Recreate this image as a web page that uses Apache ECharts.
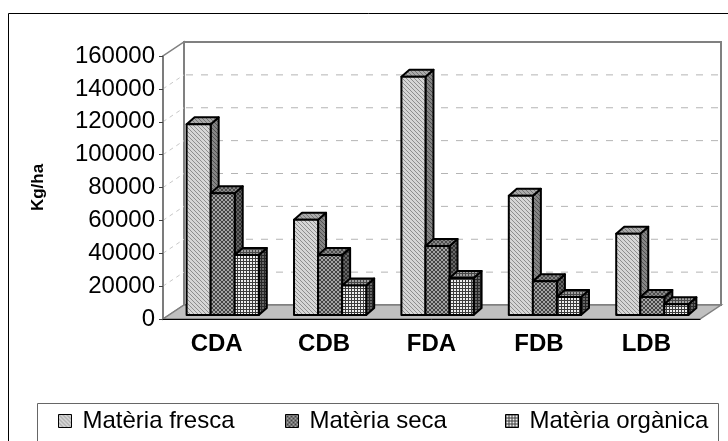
<!DOCTYPE html>
<html>
<head>
<meta charset="utf-8">
<script src="https://cdn.jsdelivr.net/npm/echarts@6/dist/echarts.min.js"></script>
<style>
  html, body { margin: 0; padding: 0; background: #fff; }
  #chart { width: 728px; height: 441px; }
</style>
</head>
<body>
<div id="chart"></div>
<script>
const categories = ['CDA', 'CDB', 'FDA', 'FDB', 'LDB']
const seriesNames = ['Matèria fresca', 'Matèria seca', 'Matèria orgànica']
const fresca = [116000, 58000, 145000, 72500, 49500]
const seca = [74000, 36500, 42000, 20500, 11000]
const organica = [36500, 18000, 22500, 11000, 6500]
const yTicks = [0, 20000, 40000, 60000, 80000, 100000, 120000, 140000, 160000]

// fake 3d offsets (px)
const WALL = [21, -14]
const BAR_POS = [6, -4]
const BAR_DEPTH = [8, -7]
const BAR_FRAC = 0.224

const FONT = 'Liberation Sans, Arial, sans-serif'

function tile(bg, fg, kind, n) {
  const c = document.createElement('canvas')
  c.width = n
  c.height = n
  const g = c.getContext('2d')
  g.fillStyle = bg
  g.fillRect(0, 0, n, n)
  g.fillStyle = fg
  for (let i = 0; i < n; i++) {
    if (kind === 'diag') g.fillRect(i, i, 1, 1)
    if (kind === 'cross') {
      g.fillRect(i, i, 1, 1)
      g.fillRect(n - 1 - i, i, 1, 1)
    }
    if (kind === 'grid') {
      g.fillRect(i, 0, 1, 1)
      g.fillRect(0, i, 1, 1)
    }
  }
  return { image: c, repeat: 'repeat' }
}

const faces = [
  {
    front: tile('#d6d6d6', '#8e8e8e', 'diag', 4),
    side: tile('#858585', '#505050', 'diag', 4),
    top: tile('#ababab', '#767676', 'diag', 4),
  },
  {
    front: tile('#a4a4a4', '#444444', 'cross', 4),
    side: tile('#666666', '#303030', 'cross', 4),
    top: tile('#888888', '#4c4c4c', 'cross', 4),
  },
  {
    front: tile('#eeeeee', '#3c3c3c', 'grid', 3),
    side: tile('#666666', '#262626', 'grid', 3),
    top: tile('#a0a0a0', '#484848', 'grid', 3),
  },
]

function wallRender(params, api) {
  const cs = params.coordSys
  const xL = cs.x
  const xR = cs.x + cs.width
  const y0 = api.coord([0, yTicks[0]])[1]
  const yTop = api.coord([0, yTicks[yTicks.length - 1]])[1]
  const [dx, dy] = WALL
  const children = [
    {
      type: 'polygon',
      shape: { points: [[xL, y0], [xL, yTop], [xL + dx, yTop + dy], [xL + dx, y0 + dy]] },
      style: { fill: '#fff', stroke: '#808080', lineWidth: 1.5 },
    },
    {
      type: 'rect',
      shape: { x: xL + dx, y: yTop + dy, width: xR - xL, height: y0 - yTop },
      style: { fill: '#fff', stroke: '#808080', lineWidth: 2 },
    },
  ]
  yTicks.slice(1, -1).forEach((t) => {
    const y = api.coord([0, t])[1]
    children.push({
      type: 'line',
      shape: { x1: xL + dx + 2, y1: y + dy, x2: xR + dx - 2, y2: y + dy },
      style: { stroke: '#b4b4b4', lineWidth: 1, lineDash: [7, 8] },
    })
    children.push({
      type: 'line',
      shape: { x1: xL, y1: y, x2: xL + dx, y2: y + dy },
      style: { stroke: '#c8c8c8', lineWidth: 1, lineDash: [4, 4] },
    })
  })
  children.push({
    type: 'polygon',
    shape: { points: [[xL, y0], [xR, y0], [xR + dx, y0 + dy], [xL + dx, y0 + dy]] },
    style: { fill: '#c0c0c0', stroke: '#808080', lineWidth: 1.5 },
  })
  return { type: 'group', children }
}

function barRender(k) {
  return function (params, api) {
    const i = api.value(0)
    const v = api.value(1)
    const base = api.coord([i, 0])
    const top = api.coord([i, v])
    const band = api.size([1, 0])[0]
    const w = band * BAR_FRAC
    const x0 = base[0] - 1.5 * w + k * w + BAR_POS[0]
    const x1 = x0 + w
    const yb = base[1] + BAR_POS[1]
    const yt = top[1] + BAR_POS[1]
    const [dx, dy] = BAR_DEPTH
    const st = { stroke: '#000', lineWidth: 2, lineJoin: 'round' }
    return {
      type: 'group',
      children: [
        {
          type: 'polygon',
          z2: k * 3,
          shape: { points: [[x1, yb], [x1 + dx, yb + dy], [x1 + dx, yt + dy], [x1, yt]] },
          style: Object.assign({}, st, { fill: faces[k].side }),
        },
        {
          type: 'polygon',
          z2: k * 3 + 1,
          shape: { points: [[x0, yt], [x1, yt], [x1 + dx, yt + dy], [x0 + dx, yt + dy]] },
          style: Object.assign({}, st, { fill: faces[k].top }),
        },
        {
          type: 'rect',
          z2: k * 3 + 2,
          shape: { x: x0, y: yt, width: w, height: yb - yt },
          style: Object.assign({}, st, { fill: faces[k].front }),
        },
      ],
    }
  }
}

const values = [fresca, seca, organica]

const legendBase = {
  padding: 0,
  itemWidth: 13,
  itemHeight: 13,
  icon: 'rect',
  top: 409,
  itemStyle: { borderColor: '#000', borderWidth: 1 },
  textStyle: { fontSize: 24, color: '#000', fontFamily: FONT, padding: [0, 0, 0, 6] },
}
const legendLeft = [58, 285, 505]

const chart = echarts.init(document.getElementById('chart'))
chart.setOption({
  animation: false,
  backgroundColor: '#fff',
  graphic: [
    {
      type: 'rect',
      z: -10,
      shape: { x: 8.5, y: 13.5, width: 800, height: 500 },
      style: { fill: 'none', stroke: '#000', lineWidth: 1 },
    },
    {
      type: 'rect',
      z: -10,
      shape: { x: 37.5, y: 403.5, width: 681, height: 80 },
      style: { fill: 'none', stroke: '#666', lineWidth: 1 },
    },
  ],
  legend: seriesNames.map((n, i) => Object.assign({}, legendBase, { data: [n], left: legendLeft[i] })),
  grid: { left: 163, right: 28, top: 56, bottom: 122 },
  xAxis: {
    type: 'category',
    data: categories,
    z: 10,
    axisLine: { lineStyle: { color: '#000', width: 1 } },
    axisTick: { length: 5, lineStyle: { color: '#000' } },
    axisLabel: { fontSize: 24, fontWeight: 'bold', color: '#000', fontFamily: FONT, margin: 13 },
  },
  yAxis: {
    type: 'value',
    min: 0,
    max: 160000,
    interval: 20000,
    z: 10,
    name: 'Kg/ha',
    nameLocation: 'middle',
    nameGap: 116,
    nameTextStyle: { fontSize: 17, fontWeight: 'bold', color: '#000', fontFamily: FONT },
    axisLine: { show: true, lineStyle: { color: '#707070', width: 1.5 } },
    axisTick: { show: true, length: 4, lineStyle: { color: '#404040' } },
    axisLabel: { fontSize: 24, color: '#000', fontFamily: FONT, margin: 8, formatter: (v) => String(v) },
    splitLine: { show: false },
  },
  series: [
    {
      type: 'custom',
      name: 'walls',
      silent: true,
      z: 1,
      data: [[0, 0]],
      renderItem: wallRender,
    },
  ].concat(
    seriesNames.map((name, k) => ({
      type: 'custom',
      name,
      z: 3,
      itemStyle: { color: faces[k].front, borderColor: '#000', borderWidth: 1 },
      encode: { x: 0, y: 1 },
      data: values[k].map((v, i) => [i, v]),
      renderItem: barRender(k),
    }))
  ),
})
</script>
</body>
</html>
